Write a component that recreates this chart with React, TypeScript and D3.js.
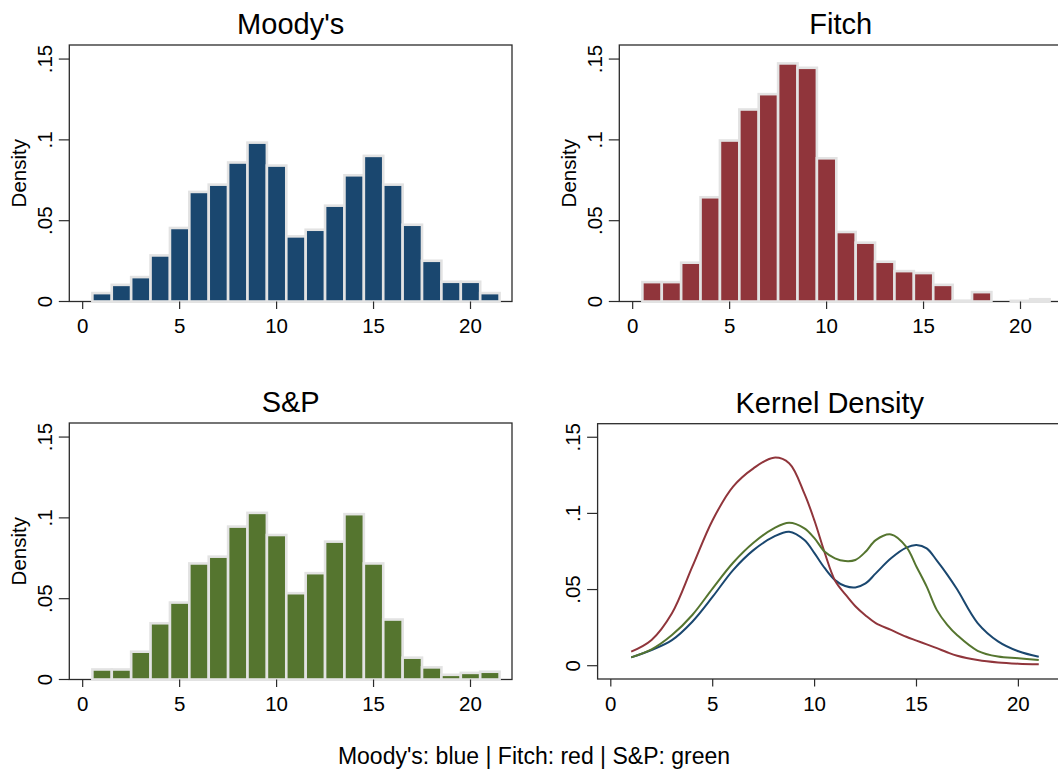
import * as d3 from 'd3';

// histogram bins (centres, width 1)
const bins = [1, 2, 3, 4, 5, 6, 7, 8, 9, 10, 11, 12, 13, 14, 15, 16, 17, 18, 19, 20, 21];

const moodysDensity = [0.0052, 0.0103, 0.0151, 0.0285, 0.0455, 0.0678, 0.0723, 0.086, 0.0983, 0.0841, 0.0403,
  0.0444, 0.0593, 0.0781, 0.0901, 0.0723, 0.0475, 0.0252, 0.0122, 0.0122, 0.0052];
const fitchDensity = [0.012, 0.012, 0.024, 0.0645, 0.0996, 0.1188, 0.1283, 0.1473, 0.1446, 0.0886, 0.043,
  0.0364, 0.0246, 0.0188, 0.0176, 0.0103, 0.0005, 0.0058, 0, 0.0004, 0.0014];
const spDensity = [0.0062, 0.0062, 0.0172, 0.0348, 0.0476, 0.0718, 0.076, 0.0946, 0.1031, 0.0894, 0.0534,
  0.0658, 0.0853, 0.1023, 0.0718, 0.0371, 0.0135, 0.0075, 0.0029, 0.0041, 0.0048];

// kernel density estimates read off the lower right panel
const kdeGrid = [1, 2, 3, 4, 5, 6, 7, 8, 8.75, 9.5, 10, 10.5, 11, 11.5, 12, 12.5, 13, 13.75, 14.5, 15, 15.5, 16,
  16.5, 17, 18, 19, 20, 21];
const moodysKde = [0.0055, 0.0103, 0.0168, 0.0289, 0.0453, 0.0628, 0.0759, 0.0847, 0.088, 0.0825, 0.0737, 0.064,
  0.0562, 0.0523, 0.0514, 0.054, 0.0606, 0.0705, 0.0775, 0.0792, 0.077, 0.069, 0.06, 0.05, 0.028, 0.016, 0.0095, 0.0059];
const fitchKde = [0.0092, 0.0169, 0.0344, 0.065, 0.0957, 0.1176, 0.1296, 0.1366, 0.133, 0.113, 0.095, 0.074,
  0.056, 0.047, 0.039, 0.033, 0.028, 0.0235, 0.019, 0.0165, 0.014, 0.0115, 0.0088, 0.0065, 0.0037, 0.0021, 0.0013, 0.0009];
const spKde = [0.0055, 0.0107, 0.0201, 0.0333, 0.0508, 0.0676, 0.0807, 0.0902, 0.0939, 0.0902, 0.0836, 0.0748,
  0.0705, 0.0687, 0.0694, 0.0748, 0.0825, 0.0862, 0.0781, 0.065, 0.0519, 0.0365, 0.027, 0.02, 0.0098, 0.006, 0.0049, 0.0037];

const xTicks = [0, 5, 10, 15, 20];
const yTicks = [0, 0.05, 0.1, 0.15];
const yTickLabels = ['0', '.05', '.1', '.15'];

const FONT = '"Liberation Sans", Arial, Helvetica, sans-serif';
const NAVY = '#1a476f';
const MAROON = '#90353b';
const GREEN = '#55752f';
const AXIS = '#2b2b2b';

type Box = { left: number; right: number; top: number; bottom: number };

type PanelProps = {
  box: Box;
  xScale: d3.ScaleLinear<number, number>;
  yScale: d3.ScaleLinear<number, number>;
  title: string;
  yLabel?: string;
  children?: any;
};

const Panel = ({ box, xScale, yScale, title, yLabel, children }: PanelProps) => {
  const cx = (box.left + box.right) / 2;
  const cy = (box.top + box.bottom) / 2;
  return (
    <g>
      <rect
        x={box.left}
        y={box.top}
        width={box.right - box.left}
        height={box.bottom - box.top}
        fill="none"
        stroke={AXIS}
        strokeWidth={1.3}
      />
      {children}
      {/* y axis */}
      {yTicks.map((t, i) => (
        <g key={'y' + t}>
          <line x1={box.left - 10.5} x2={box.left} y1={yScale(t)} y2={yScale(t)} stroke={AXIS} strokeWidth={1.2} />
          <text
            transform={`translate(${box.left - 17.6},${yScale(t)}) rotate(-90)`}
            textAnchor="middle"
            fontSize={20.5}
            fontFamily={FONT}
            fill="#000"
          >
            {yTickLabels[i]}
          </text>
        </g>
      ))}
      {/* x axis */}
      {xTicks.map((t) => (
        <g key={'x' + t}>
          <line x1={xScale(t)} x2={xScale(t)} y1={box.bottom} y2={box.bottom + 7.5} stroke={AXIS} strokeWidth={1.2} />
          <text x={xScale(t)} y={box.bottom + 31.7} textAnchor="middle" fontSize={20.5} fontFamily={FONT} fill="#000">
            {t}
          </text>
        </g>
      ))}
      {yLabel && (
        <text
          transform={`translate(${box.left - 43.3},${cy}) rotate(-90)`}
          textAnchor="middle"
          fontSize={20.5}
          fontFamily={FONT}
          fill="#000"
        >
          {yLabel}
        </text>
      )}
      <text x={cx} y={box.top - 11} textAnchor="middle" fontSize={29} fontFamily={FONT} fill="#000">
        {title}
      </text>
    </g>
  );
};

const Histogram = ({ box, values, color, title }: { box: Box; values: number[]; color: string; title: string }) => {
  const xScale = d3.scaleLinear().domain([-0.69, 22.14]).range([box.left, box.right]);
  const yScale = d3.scaleLinear().domain([0, 0.1587]).range([box.bottom, box.top]);
  return (
    <Panel box={box} xScale={xScale} yScale={yScale} title={title} yLabel="Density">
      {bins.map((b, i) => (
        <rect
          key={b}
          x={xScale(b - 0.5)}
          y={yScale(values[i])}
          width={xScale(b + 0.5) - xScale(b - 0.5)}
          height={yScale(0) - yScale(values[i])}
          fill={color}
          stroke="#e3e3e3"
          strokeWidth={2.6}
        />
      ))}
    </Panel>
  );
};

const KernelPanel = ({ box }: { box: Box }) => {
  const xScale = d3.scaleLinear().domain([-0.648, 22.14]).range([box.left, box.right]);
  const yScale = d3.scaleLinear().domain([-0.00873, 0.1589]).range([box.bottom, box.top]);
  const line = d3
    .line<number>()
    .x((_, i) => xScale(kdeGrid[i]))
    .y((d) => yScale(d))
    .curve(d3.curveCatmullRom.alpha(0.5));
  const series = [
    { name: 'moodys', values: moodysKde, color: NAVY },
    { name: 'fitch', values: fitchKde, color: MAROON },
    { name: 'sp', values: spKde, color: GREEN },
  ];
  return (
    <Panel box={box} xScale={xScale} yScale={yScale} title="Kernel Density">
      {series.map((s) => (
        <path key={s.name} d={line(s.values) || ''} fill="none" stroke={s.color} strokeWidth={2} />
      ))}
    </Panel>
  );
};

export default function App() {
  const width = 1058;
  const height = 774;
  return (
    <svg
      width={width}
      height={height}
      style={{ position: 'absolute', left: 0, top: 0, background: '#fff' }}
    >
      <rect width={width} height={height} fill="#fff" />
      <Histogram box={{ left: 69.3, right: 512, top: 45, bottom: 301.5 }} values={moodysDensity} color={NAVY} title="Moody's" />
      <Histogram box={{ left: 619.3, right: 1062, top: 45, bottom: 301.5 }} values={fitchDensity} color={MAROON} title="Fitch" />
      <Histogram box={{ left: 69.3, right: 512, top: 423, bottom: 679.5 }} values={spDensity} color={GREEN} title="S&P" />
      <KernelPanel box={{ left: 597.6, right: 1062, top: 423.7, bottom: 679 }} />
      <text x={534} y={764} textAnchor="middle" fontSize={23} fontFamily={FONT} fill="#000">
        Moody's: blue | Fitch: red | S&P: green
      </text>
    </svg>
  );
}
